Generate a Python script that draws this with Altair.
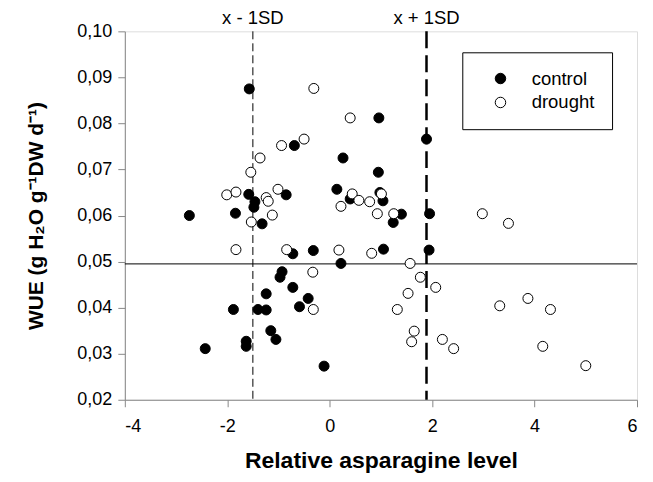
import altair as alt
import pandas as pd

groups = ["control", "drought"]

control_x = [-1.57, 0.96, 1.89, -0.69, 0.26, 0.95, -1.58, -1.46, -1.48, -0.85,
             0.14, 0.40, 0.98, 1.04, -2.74, -1.84, -1.32, 1.24, 1.40, 1.95,
             1.94, 1.05, -0.32, -0.72, 0.22, -0.93, -0.97, -0.72, -1.24, -0.42,
             -0.59, -1.88, -1.40, -1.24, -1.15, -1.05, -1.63, -1.63, -2.43, -0.11]
control_y = [0.0875, 0.0812, 0.0766, 0.0752, 0.0725, 0.0694, 0.0646, 0.0630, 0.0618, 0.0645,
             0.0657, 0.0636, 0.0650, 0.0632, 0.0600, 0.0605, 0.0582, 0.0585, 0.0603, 0.0604,
             0.0525, 0.0527, 0.0524, 0.0517, 0.0496, 0.0478, 0.0466, 0.0444, 0.0430, 0.0420,
             0.0402, 0.0396, 0.0396, 0.0395, 0.0350, 0.0331, 0.0327, 0.0316, 0.0311, 0.0273]

drought_x = [-0.31, 0.40, -0.50, -0.94, -1.36, -1.54, -2.01, -1.83, -1.24, -1.20,
             -1.01, -1.12, -1.53, -1.83, -0.84, -0.33, -0.32, 0.18, 0.22, 0.44,
             0.57, 0.78, 0.93, 1.01, 1.25, 0.82, 1.57, 1.77, 2.07, 1.53,
             1.32, 1.65, 1.60, 2.20, 2.42, 2.98, 3.49, 3.32, 3.87, 4.31,
             4.16, 5.00]
drought_y = [0.0876, 0.0812, 0.0766, 0.0752, 0.0725, 0.0694, 0.0645, 0.0651, 0.0639, 0.0631,
             0.0657, 0.0601, 0.0586, 0.0526, 0.0526, 0.0477, 0.0396, 0.0525, 0.0620, 0.0647,
             0.0633, 0.0630, 0.0604, 0.0647, 0.0604, 0.0518, 0.0496, 0.0466, 0.0444, 0.0431,
             0.0396, 0.0349, 0.0326, 0.0331, 0.0311, 0.0604, 0.0583, 0.0404, 0.0420, 0.0396,
             0.0316, 0.0274]

x_ticks = [-4, -2, 0, 2, 4, 6]
y_ticks = [0.02, 0.03, 0.04, 0.05, 0.06, 0.07, 0.08, 0.09, 0.10]
mean_wue = [0.0495]
sd_x = [-1.5, 1.89]
sd_labels = ["x - 1SD", "x + 1SD"]

FONT = "Liberation Sans"

pts = pd.DataFrame({
    "x": control_x + drought_x,
    "y": control_y + drought_y,
    "group": ["control"] * len(control_x) + ["drought"] * len(drought_x),
})
sd_df = pd.DataFrame({"x": sd_x, "label": sd_labels})
hline_df = pd.DataFrame({"y": mean_wue})

xscale = alt.Scale(domain=[-4, 6], nice=False, zero=False)
yscale = alt.Scale(domain=[0.02, 0.10], nice=False, zero=False)

x_axis = alt.Axis(values=x_ticks, title="Relative asparagine level",
                  labelExpr="'' + datum.value", grid=False,
                  tickSize=7, labelPadding=11, titlePadding=14,
                  labelFontSize=18, titleFontSize=23, titleFontWeight="bold")
y_axis = alt.Axis(values=y_ticks, title="WUE (g H\u2082O g\u207b\u00b9DW d\u207b\u00b9)",
                  labelExpr="replace(format(datum.value, '.2f'), '.', ',')",
                  grid=False, tickSize=7, labelPadding=6, titlePadding=30,
                  labelFontSize=18, titleFontSize=21, titleFontWeight="bold")

hline = alt.Chart(hline_df).mark_rule(color="black", strokeWidth=1).encode(
    y=alt.Y("y:Q", scale=yscale, axis=y_axis)
)

thin = alt.Chart(sd_df.iloc[[0]]).mark_rule(color="black", strokeWidth=1, strokeDash=[8, 4]).encode(
    x=alt.X("x:Q", scale=xscale, axis=x_axis)
)
thick = alt.Chart(sd_df.iloc[[1]]).mark_rule(color="black", strokeWidth=2.5, strokeDash=[17, 7]).encode(
    x=alt.X("x:Q", scale=xscale)
)
labels = alt.Chart(sd_df).mark_text(fontSize=18.5, font=FONT, color="black", baseline="middle").encode(
    x=alt.X("x:Q", scale=xscale),
    y=alt.value(-13),
    text="label:N",
)

points = alt.Chart(pts).mark_point(filled=True, shape="circle", size=100, stroke="black",
                                   strokeWidth=1, opacity=1).encode(
    x=alt.X("x:Q", scale=xscale, axis=x_axis),
    y=alt.Y("y:Q", scale=yscale, axis=y_axis),
    fill=alt.Fill("group:N", scale=alt.Scale(domain=groups, range=["black", "white"]),
                  legend=alt.Legend(title=None, orient="none", legendX=338, legendY=21,
                                    strokeColor="black", fillColor="white", padding=17,
                                    symbolOffset=12, labelOffset=22, rowPadding=5,
                                    labelFontSize=18.5, labelFont=FONT, symbolSize=110,
                                    symbolStrokeColor="black", symbolStrokeWidth=1,
                                    symbolType="circle", cornerRadius=0)),
)

chart = alt.layer(hline, thin, thick, labels, points).properties(
    width=513, height=369,
    padding={"left": 117, "top": 23, "right": 8, "bottom": 80},
    autosize=alt.AutoSizeParams(type="none"),
).configure_view(stroke="#222", strokeWidth=1).configure_axis(
    labelFont=FONT, titleFont=FONT, labelColor="black", titleColor="black",
    domainColor="#222", tickColor="#222"
).configure(background="white")

chart.save("out.html", embed_options={"renderer": "svg", "actions": False})
